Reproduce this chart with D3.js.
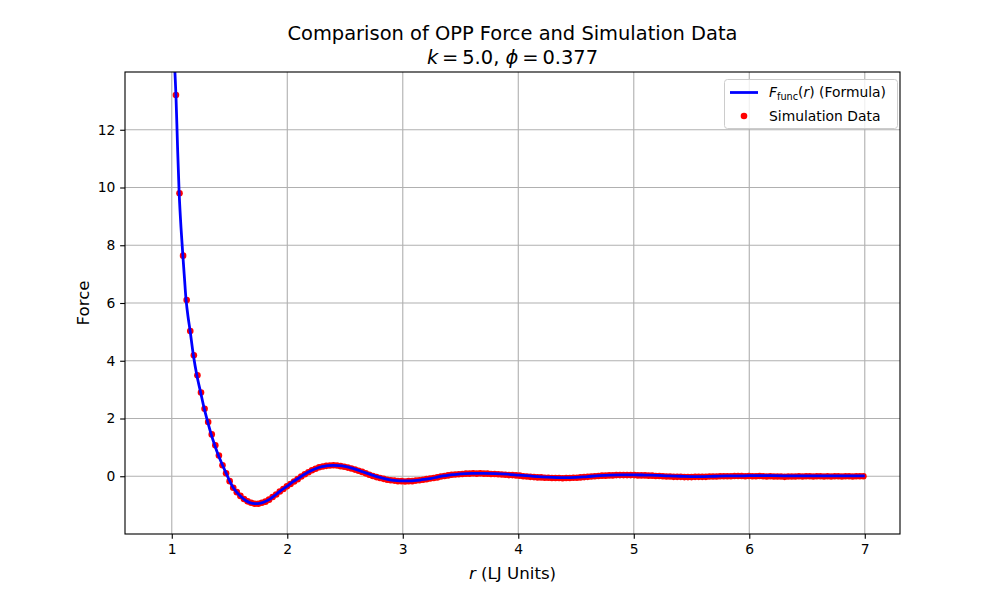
<!DOCTYPE html>
<html><head><meta charset="utf-8">
<script src="https://cdn.jsdelivr.net/npm/d3@7/dist/d3.min.js"></script>
<style>
body{margin:0;background:#fff}
text{font-family:"DejaVu Sans",sans-serif;fill:#000}
</style>
</head><body>
<svg id="c" width="1000" height="600"></svg>
<script>
// ---- data ----
const xTickValues = [1, 2, 3, 4, 5, 6, 7];
const yTickValues = [0, 2, 4, 6, 8, 10, 12];

// Formula curve F_func(r)
const lineR = [1.02, 1.036, 1.05, 1.064, 1.08, 1.096, 1.11, 1.124, 1.14, 1.159, 1.187, 1.217, 1.25, 1.28, 1.31, 1.34, 1.37, 1.40, 1.44, 1.47, 1.50, 1.53, 1.56, 1.60, 1.64, 1.68, 1.72, 1.76, 1.80, 1.85, 1.90, 1.95, 2.00, 2.05, 2.10, 2.15, 2.20, 2.25, 2.30, 2.35, 2.40, 2.45, 2.50, 2.55, 2.60, 2.65, 2.70, 2.75, 2.80, 2.85, 2.90, 2.95, 3.00, 3.05, 3.10, 3.15, 3.20, 3.25, 3.30, 3.35, 3.40, 3.45, 3.50, 3.60, 3.70, 3.80, 3.90, 4.00, 4.10, 4.20, 4.30, 4.40, 4.50, 4.60, 4.70, 4.80, 4.90, 5.00, 5.10, 5.20, 5.30, 5.40, 5.50, 5.60, 5.70, 5.80, 5.90, 6.00, 6.20, 6.40, 6.60, 6.80, 7.00];
const lineF = [14.6, 13.2, 11.4, 9.8, 8.6, 7.64, 6.85, 6.1, 5.55, 5.03, 4.19, 3.5, 2.9, 2.36, 1.9, 1.47, 1.1, 0.76, 0.38, 0.11, -0.15, -0.38, -0.54, -0.71, -0.84, -0.92, -0.95, -0.94, -0.89, -0.79, -0.64, -0.48, -0.34, -0.19, -0.06, 0.07, 0.18, 0.27, 0.33, 0.37, 0.38, 0.37, 0.34, 0.29, 0.23, 0.16, 0.09, 0.02, -0.04, -0.09, -0.13, -0.15, -0.16, -0.16, -0.15, -0.13, -0.10, -0.07, -0.03, 0.01, 0.04, 0.06, 0.08, 0.10, 0.10, 0.09, 0.07, 0.04, 0.01, -0.02, -0.04, -0.05, -0.04, -0.01, 0.02, 0.04, 0.05, 0.05, 0.04, 0.03, 0.01, 0.00, -0.01, -0.01, 0.00, 0.01, 0.01, 0.02, 0.02, 0.01, 0.01, 0.01, 0.01];

// Simulation data
const simR = [1.036, 1.067, 1.098, 1.129, 1.160, 1.191, 1.222, 1.253, 1.284, 1.315, 1.346, 1.377, 1.408, 1.439, 1.470, 1.501, 1.532, 1.563, 1.594, 1.625, 1.656, 1.687, 1.718, 1.749, 1.780, 1.811, 1.842, 1.873, 1.904, 1.935, 1.966, 1.997, 2.028, 2.059, 2.090, 2.121, 2.152, 2.183, 2.214, 2.245, 2.276, 2.307, 2.338, 2.369, 2.400, 2.431, 2.462, 2.493, 2.524, 2.555, 2.586, 2.617, 2.648, 2.679, 2.710, 2.741, 2.772, 2.803, 2.834, 2.865, 2.896, 2.927, 2.958, 2.989, 3.020, 3.051, 3.082, 3.113, 3.144, 3.175, 3.206, 3.237, 3.268, 3.299, 3.330, 3.361, 3.392, 3.423, 3.454, 3.485, 3.516, 3.547, 3.578, 3.609, 3.640, 3.671, 3.702, 3.733, 3.764, 3.795, 3.826, 3.857, 3.888, 3.919, 3.950, 3.981, 4.012, 4.043, 4.074, 4.105, 4.136, 4.167, 4.198, 4.229, 4.260, 4.291, 4.322, 4.353, 4.384, 4.415, 4.446, 4.477, 4.508, 4.539, 4.570, 4.601, 4.632, 4.663, 4.694, 4.725, 4.756, 4.787, 4.818, 4.849, 4.880, 4.911, 4.942, 4.973, 5.004, 5.035, 5.066, 5.097, 5.128, 5.159, 5.190, 5.221, 5.252, 5.283, 5.314, 5.345, 5.376, 5.407, 5.438, 5.469, 5.500, 5.531, 5.562, 5.593, 5.624, 5.655, 5.686, 5.717, 5.748, 5.779, 5.810, 5.841, 5.872, 5.903, 5.934, 5.965, 5.996, 6.027, 6.058, 6.089, 6.120, 6.151, 6.182, 6.213, 6.244, 6.275, 6.306, 6.337, 6.368, 6.399, 6.430, 6.461, 6.492, 6.523, 6.554, 6.585, 6.616, 6.647, 6.678, 6.709, 6.740, 6.771, 6.802, 6.833, 6.864, 6.895, 6.926, 6.957, 6.988];
const simF = [13.2, 9.8, 7.64, 6.1, 5.03, 4.19, 3.5, 2.9, 2.34, 1.88, 1.45, 1.07, 0.72, 0.38, 0.10, -0.17, -0.40,
  -0.55, -0.68, -0.79, -0.87, -0.92, -0.95, -0.95, -0.92, -0.88, -0.81, -0.72, -0.63, -0.53, -0.44, -0.35, -0.27, -0.18, -0.10,
  -0.01, 0.07, 0.14, 0.21, 0.26, 0.31, 0.34, 0.36, 0.37, 0.38, 0.37, 0.35, 0.33, 0.30, 0.27, 0.23, 0.19, 0.15, 0.10, 0.05, 0.01, -0.03,
  -0.06, -0.09, -0.12, -0.14, -0.15, -0.17, -0.17, -0.18, -0.17, -0.17, -0.15, -0.14, -0.12, -0.10, -0.08, -0.06, -0.04,
  -0.01, 0.01, 0.03, 0.05, 0.06, 0.07, 0.08, 0.09, 0.09, 0.10, 0.09, 0.10, 0.09, 0.09, 0.08, 0.08, 0.07, 0.06, 0.05, 0.04, 0.04, 0.03, 0.02, 0.00, -0.01, -0.02, -0.03,
  -0.04, -0.04, -0.05, -0.05, -0.06, -0.06, -0.06, -0.07, -0.06, -0.06, -0.05, -0.05, -0.04, -0.03, -0.02, -0.01, 0.00, 0.01, 0.02, 0.02, 0.03, 0.03, 0.04, 0.04, 0.04, 0.04, 0.04, 0.04, 0.03, 0.03,
  0.03, 0.02, 0.02, 0.01, 0.01, 0.00, -0.01, -0.01, -0.02, -0.02, -0.02, -0.03, -0.03, -0.03, -0.02, -0.02, -0.02, -0.02, -0.01, -0.01, -0.01, 0.00, 0.00, 0.00, 0.00, 0.01, 0.01, 0.01, 0.00, 0.01,
  0.00, 0.00, 0.01, 0.00, -0.01, 0.00, -0.01, -0.01, -0.01, -0.02, -0.01, -0.01, -0.01, 0.00, -0.01, 0.00, 0.00, -0.01, 0.00, 0.00, -0.01, 0.00, -0.01, 0.00, 0.00, -0.01, 0.00, 0.00, -0.01, 0.00, 0.00, 0.00];

// ---- drawing ----
const svg = d3.select("#c");
const L = 125, R = 900, T = 72, B = 534;
const PT = 100 / 72;
const x = d3.scaleLinear().domain([0.595, 7.305]).range([L, R]);
const y = d3.scaleLinear().domain([-2, 14]).range([B, T]);

svg.append("rect").attr("width", 1000).attr("height", 600).attr("fill", "#fff");
svg.append("defs").append("clipPath").attr("id", "clip")
  .append("rect").attr("x", L).attr("y", T).attr("width", R - L).attr("height", B - T);

// grid
const grid = svg.append("g");
grid.selectAll("line.gx").data(xTickValues).join("line")
  .attr("x1", d => x(d)).attr("x2", d => x(d)).attr("y1", T).attr("y2", B)
  .attr("stroke", "#b0b0b0").attr("stroke-width", 0.8 * PT);
grid.selectAll("line.gy").data(yTickValues).join("line")
  .attr("y1", d => y(d)).attr("y2", d => y(d)).attr("x1", L).attr("x2", R)
  .attr("stroke", "#b0b0b0").attr("stroke-width", 0.8 * PT);

// scatter
const plot = svg.append("g").attr("clip-path", "url(#clip)");
const sim = simR.map((r, i) => ({r, f: simF[i]})).filter(d => d.f !== undefined);
plot.append("g").selectAll("circle").data(sim).join("circle")
  .attr("cx", d => x(d.r)).attr("cy", d => y(d.f)).attr("r", 3.3)
  .attr("fill", "#ff0000");

// line
const lineData = lineR.map((r, i) => [r, lineF[i]]);
plot.append("path").datum(lineData)
  .attr("d", d3.line().x(d => x(d[0])).y(d => y(d[1])).curve(d3.curveCatmullRom.alpha(0.5)))
  .attr("fill", "none").attr("stroke", "#0000ff").attr("stroke-width", 2 * PT)
  .attr("stroke-linejoin", "round");

// axes
const tickLen = 3.5 * PT;
const xAxis = svg.append("g").attr("transform", `translate(0,${B})`)
  .call(d3.axisBottom(x).tickValues(xTickValues).tickFormat(d3.format("d")).tickSize(tickLen).tickPadding(3.5 * PT));
const yAxis = svg.append("g").attr("transform", `translate(${L},0)`)
  .call(d3.axisLeft(y).tickValues(yTickValues).tickFormat(d3.format("d")).tickSize(tickLen).tickPadding(3.5 * PT));
[xAxis, yAxis].forEach(a => {
  a.select(".domain").remove();
  a.selectAll(".tick line").attr("stroke", "#000").attr("stroke-width", 0.8 * PT);
  a.selectAll(".tick text").attr("font-family", "DejaVu Sans").attr("font-size", 10 * PT).attr("fill", "#000");
});

// spines
svg.append("rect").attr("x", L).attr("y", T).attr("width", R - L).attr("height", B - T)
  .attr("fill", "none").attr("stroke", "#000").attr("stroke-width", 0.8 * PT);

// title
const cx = (L + R) / 2;
svg.append("text").attr("x", cx).attr("y", 40).attr("text-anchor", "middle")
  .attr("font-size", 14 * PT).text("Comparison of OPP Force and Simulation Data");
const t2 = svg.append("text").attr("x", cx).attr("y", 64).attr("text-anchor", "middle").attr("font-size", 14 * PT);
t2.append("tspan").attr("font-style", "italic").text("k");
t2.append("tspan").text("\u2009=\u20095.0, ");
t2.append("tspan").attr("font-style", "italic").text("ϕ");
t2.append("tspan").text("\u2009=\u20090.377");

// axis labels
const xl = svg.append("text").attr("x", cx).attr("y", 579).attr("text-anchor", "middle").attr("font-size", 12 * PT);
xl.append("tspan").attr("font-style", "italic").text("r");
xl.append("tspan").text(" (LJ Units)");
svg.append("text").attr("transform", `translate(89,${(T + B) / 2}) rotate(-90)`)
  .attr("text-anchor", "middle").attr("font-size", 12 * PT).text("Force");

// legend
const lg = svg.append("g");
lg.append("rect").attr("x", 724.5).attr("y", 79.5).attr("width", 173).attr("height", 49)
  .attr("rx", 3).attr("fill", "#fff").attr("fill-opacity", 0.8)
  .attr("stroke", "#cccccc").attr("stroke-width", 1);
lg.append("line").attr("x1", 730).attr("x2", 758).attr("y1", 92.5).attr("y2", 92.5)
  .attr("stroke", "#0000ff").attr("stroke-width", 2 * PT);
lg.append("circle").attr("cx", 744).attr("cy", 116).attr("r", 3.3).attr("fill", "#ff0000");
const l1 = lg.append("text").attr("x", 769).attr("y", 97).attr("font-size", 10 * PT);
l1.append("tspan").attr("font-style", "italic").text("F");
l1.append("tspan").attr("font-size", 7 * PT).attr("dy", 3).text("func");
l1.append("tspan").attr("dy", -3).text("(");
l1.append("tspan").attr("font-style", "italic").text("r");
l1.append("tspan").text(") (Formula)");
lg.append("text").attr("x", 769).attr("y", 120.5).attr("font-size", 10 * PT).text("Simulation Data");
</script>
</body></html>
